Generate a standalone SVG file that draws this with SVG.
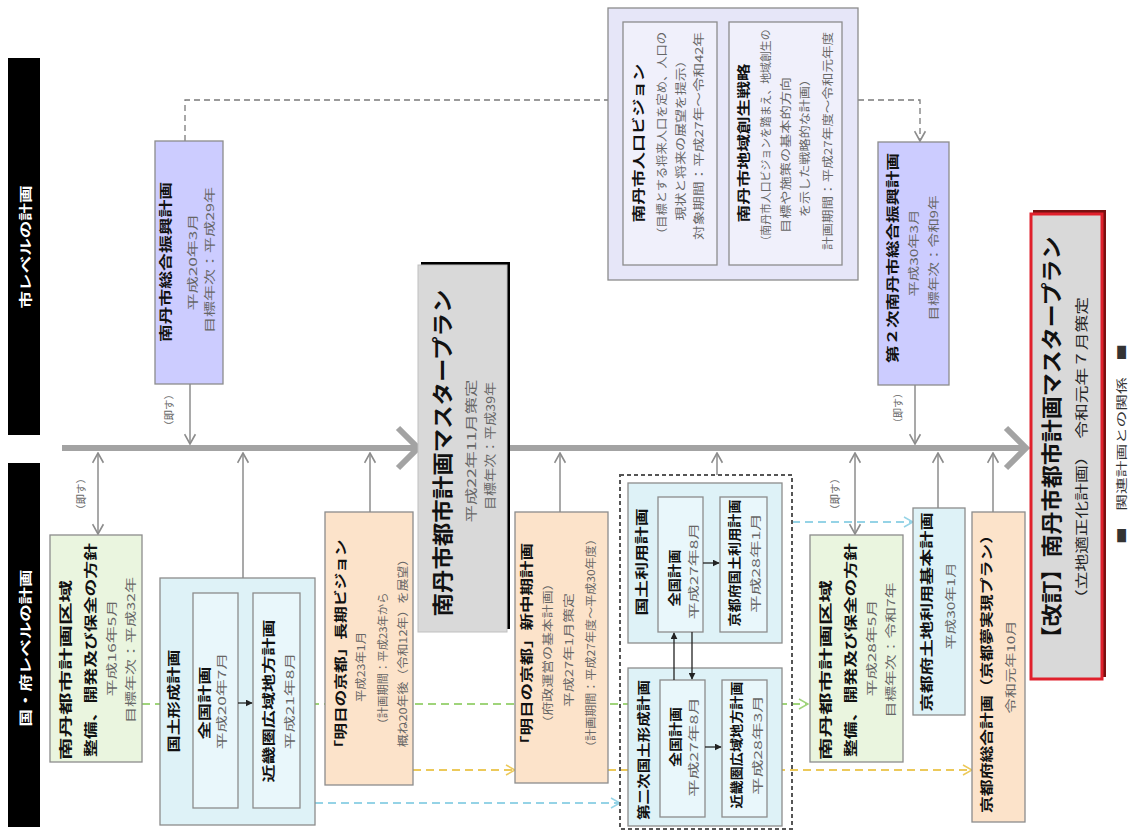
<svg xmlns="http://www.w3.org/2000/svg" width="1145" height="832" viewBox="0 0 1145 832">
<style>
text{font-family:"Noto Sans CJK JP","Noto Sans",sans-serif;text-anchor:middle;dominant-baseline:central}
.b{font-weight:bold;fill:#111}
.g{fill:#666}
.w{fill:#fff;font-weight:bold}
.lab{fill:#666;font-size:10px}
.box{stroke:#8c8c8c;stroke-width:1.3}
.grn{fill:#eaf5df}
.cyn{fill:#def2f7}
.cyi{fill:#e9f7fb}
.org{fill:#fce3ca}
.pur{fill:#ccccff}
.pu2{fill:#e6e6f8}
.pu3{fill:#f0f0fb}
.con{stroke:#8c8c8c;stroke-width:1.5;fill:none}
.dsh{stroke:#7a7a7a;stroke-width:1.3;fill:none;stroke-dasharray:6 4}
.tl{stroke:#a3a3a3;stroke-width:6;fill:none}
</style>
<defs>
<marker id="ag" viewBox="0 0 12 12" refX="11" refY="6" markerWidth="13" markerHeight="13" markerUnits="userSpaceOnUse" orient="auto-start-reverse"><path d="M2,1 L11,6 L2,11" fill="none" stroke="#8c8c8c" stroke-width="1.5"/></marker>
<marker id="ak" viewBox="0 0 10 10" refX="9" refY="5" markerWidth="7" markerHeight="7" markerUnits="userSpaceOnUse" orient="auto-start-reverse"><path d="M0,0 L10,5 L0,10 Z" fill="#222"/></marker>
<marker id="agr" viewBox="0 0 12 12" refX="11" refY="6" markerWidth="12" markerHeight="12" markerUnits="userSpaceOnUse" orient="auto"><path d="M2,1 L11,6 L2,11" fill="none" stroke="#9fd47a" stroke-width="1.5"/></marker>
<marker id="ayl" viewBox="0 0 12 12" refX="11" refY="6" markerWidth="12" markerHeight="12" markerUnits="userSpaceOnUse" orient="auto"><path d="M2,1 L11,6 L2,11" fill="none" stroke="#ecc95a" stroke-width="1.5"/></marker>
<marker id="acy" viewBox="0 0 12 12" refX="11" refY="6" markerWidth="12" markerHeight="12" markerUnits="userSpaceOnUse" orient="auto"><path d="M2,1 L11,6 L2,11" fill="none" stroke="#95d3e6" stroke-width="1.5"/></marker>
</defs>
<rect width="1145" height="832" fill="#fff"/>

<g id="connectors">
<path d="M142,704 H808" stroke="#9fd47a" stroke-width="2" stroke-dasharray="8 5" fill="none" marker-end="url(#agr)"/>
<path d="M413,770 H515" stroke="#ecc95a" stroke-width="2" stroke-dasharray="8 5" fill="none" marker-end="url(#ayl)"/>
<path d="M608,770 H972" stroke="#ecc95a" stroke-width="2" stroke-dasharray="8 5" fill="none" marker-end="url(#ayl)"/>
<path d="M315,803 H620" stroke="#95d3e6" stroke-width="2" stroke-dasharray="8 5" fill="none" marker-end="url(#acy)"/>
<path d="M792,522 H913" stroke="#95d3e6" stroke-width="2" stroke-dasharray="8 5" fill="none" marker-end="url(#acy)"/>
<path class="dsh" d="M185,141 V100 H608"/>
<path class="dsh" d="M858,100 H920 V141" marker-end="url(#ag)"/>
<path class="tl" d="M62,448 H416"/>
<path class="tl" d="M398,428 L418,448 L398,468"/>
<path class="tl" d="M507,448 H1024"/>
<path class="tl" d="M1006,428 L1026,448 L1006,468"/>
<path class="con" d="M190,384 V444" marker-end="url(#ag)"/>
<path class="con" d="M915,385 V444" marker-end="url(#ag)"/>
<path class="con" d="M98,453 V534" marker-start="url(#ag)" marker-end="url(#ag)"/>
<path class="con" d="M243,578 V453" marker-end="url(#ag)"/>
<path class="con" d="M370,512 V453" marker-end="url(#ag)"/>
<path class="con" d="M560,512 V453" marker-end="url(#ag)"/>
<path class="con" d="M717,475 V453" marker-end="url(#ag)"/>
<path class="con" d="M855,453 V534" marker-start="url(#ag)" marker-end="url(#ag)"/>
<path class="con" d="M938,508 V453" marker-end="url(#ag)"/>
<path class="con" d="M993,512 V453" marker-end="url(#ag)"/>
<text class="lab" transform="translate(168,410) rotate(-90)" textLength="42" lengthAdjust="spacingAndGlyphs">（即す）</text>
<text class="lab" transform="translate(897,408) rotate(-90)" textLength="40" lengthAdjust="spacingAndGlyphs">（即す）</text>
<text class="lab" transform="translate(80,494) rotate(-90)" textLength="42" lengthAdjust="spacingAndGlyphs">（即す）</text>
<text class="lab" transform="translate(834,494) rotate(-90)" textLength="42" lengthAdjust="spacingAndGlyphs">（即す）</text>
</g>

<g id="label-city">
<rect x="8" y="58" width="32" height="377" fill="#000"/>
<text class="w" font-size="13" transform="translate(24,247) rotate(-90)" textLength="123" lengthAdjust="spacingAndGlyphs">市レベルの計画</text>
</g>
<g id="label-pref">
<rect x="8" y="463" width="32" height="364" fill="#000"/>
<text class="w" font-size="13" transform="translate(24,648) rotate(-90)" textLength="157" lengthAdjust="spacingAndGlyphs">国・府レベルの計画</text>
</g>

<g id="city-plan-1">
<rect class="box pur" x="155" y="141" width="68" height="243"/>
<text class="b" font-size="13" transform="translate(164,262) rotate(-90)" textLength="160" lengthAdjust="spacingAndGlyphs">南丹市総合振興計画</text>
<text class="g" font-size="11" transform="translate(192,262) rotate(-90)" textLength="97" lengthAdjust="spacingAndGlyphs">平成20年3月</text>
<text class="g" font-size="11" transform="translate(209,260) rotate(-90)" textLength="146" lengthAdjust="spacingAndGlyphs">目標年次：平成29年</text>
</g>

<g id="city-vision">
<rect class="box pu2" x="608" y="8" width="250" height="272"/>
<rect class="box pu3" x="623" y="22" width="94" height="243"/>
<rect class="box pu3" x="729" y="22" width="113" height="243"/>
<text class="b" font-size="13" transform="translate(637,143) rotate(-90)" textLength="159" lengthAdjust="spacingAndGlyphs">南丹市人口ビジョン</text>
<text class="g" font-size="11" transform="translate(661,136) rotate(-90)" textLength="208" lengthAdjust="spacingAndGlyphs">（目標とする将来人口を定め、人口の</text>
<text class="g" font-size="11" transform="translate(680,137) rotate(-90)" textLength="167" lengthAdjust="spacingAndGlyphs">現状と将来の展望を提示）</text>
<text class="g" font-size="11" transform="translate(698,136) rotate(-90)" textLength="208" lengthAdjust="spacingAndGlyphs">対象期間：平成27年～令和42年</text>
<text class="b" font-size="13" transform="translate(742,143) rotate(-90)" textLength="159" lengthAdjust="spacingAndGlyphs">南丹市地域創生戦略</text>
<text class="g" font-size="11" transform="translate(765,138) rotate(-90)" textLength="217" lengthAdjust="spacingAndGlyphs">（南丹市人口ビジョンを踏まえ、地域創生の</text>
<text class="g" font-size="11" transform="translate(785,155) rotate(-90)" textLength="156" lengthAdjust="spacingAndGlyphs">目標や施策の基本的方向</text>
<text class="g" font-size="11" transform="translate(804,145) rotate(-90)" textLength="144" lengthAdjust="spacingAndGlyphs">を示した戦略的な計画）</text>
<text class="g" font-size="11" transform="translate(827,141) rotate(-90)" textLength="218" lengthAdjust="spacingAndGlyphs">計画期間：平成27年度～令和元年度</text>
</g>

<g id="city-plan-2">
<rect class="box pur" x="878" y="142" width="71" height="243"/>
<text class="b" font-size="13" transform="translate(891,258) rotate(-90)" textLength="210" lengthAdjust="spacingAndGlyphs">第２次南丹市総合振興計画</text>
<text class="g" font-size="11" transform="translate(913,253) rotate(-90)" textLength="87" lengthAdjust="spacingAndGlyphs">平成30年3月</text>
<text class="g" font-size="11" transform="translate(933,258) rotate(-90)" textLength="125" lengthAdjust="spacingAndGlyphs">目標年次：令和9年</text>
</g>

<g id="master-plan">
<rect x="421" y="262" width="89" height="367" fill="#000"/>
<rect x="418" y="265" width="89" height="367" fill="#d9d9d9" stroke="#bfbfbf" stroke-width="1"/>
<text class="b" font-size="21" transform="translate(441,453) rotate(-90)" textLength="327" lengthAdjust="spacingAndGlyphs">南丹市都市計画マスタープラン</text>
<text class="g" font-size="12" transform="translate(470,451) rotate(-90)" textLength="143" lengthAdjust="spacingAndGlyphs">平成22年11月策定</text>
<text class="g" font-size="12" transform="translate(489,446) rotate(-90)" textLength="128" lengthAdjust="spacingAndGlyphs">目標年次：平成39年</text>
</g>

<g id="revised-plan">
<rect x="1033" y="210" width="73" height="467" fill="#7a1010"/>
<rect x="1031" y="214" width="71" height="465" fill="#d9d9d9" stroke="#e0202c" stroke-width="3"/>
<text class="b" font-size="21" transform="translate(1050,443) rotate(-90)" textLength="413" lengthAdjust="spacingAndGlyphs">【改訂】南丹市都市計画マスタープラン</text>
<text font-size="13" fill="#222" transform="translate(1080,452) rotate(-90)" textLength="310" lengthAdjust="spacingAndGlyphs">（立地適正化計画）　令和元年７月策定</text>
</g>

<g id="legend">
<text font-size="11" fill="#333" transform="translate(1121,444) rotate(-90)" textLength="200" lengthAdjust="spacingAndGlyphs">■　関連計画との関係　■</text>
</g>

<g id="area-policy-1">
<rect class="box grn" x="50" y="535" width="92" height="227"/>
<text class="b" font-size="13" transform="translate(64,670) rotate(-90)" textLength="180" lengthAdjust="spacingAndGlyphs">南丹都市計画区域</text>
<text class="b" font-size="13" transform="translate(89,650) rotate(-90)" textLength="214" lengthAdjust="spacingAndGlyphs">整備、開発及び保全の方針</text>
<text class="g" font-size="11" transform="translate(111,648) rotate(-90)" textLength="97" lengthAdjust="spacingAndGlyphs">平成16年5月</text>
<text class="g" font-size="11" transform="translate(130,650) rotate(-90)" textLength="146" lengthAdjust="spacingAndGlyphs">目標年次：平成32年</text>
</g>

<g id="national-formation-1">
<rect class="box cyn" x="160" y="578" width="155" height="247"/>
<rect class="box cyi" x="193" y="593" width="45" height="215"/>
<rect class="box cyi" x="253" y="593" width="47" height="215"/>
<path d="M238,703 H252" stroke="#222" stroke-width="1.3" marker-end="url(#ak)"/>
<text class="b" font-size="13" transform="translate(172,701) rotate(-90)" textLength="103" lengthAdjust="spacingAndGlyphs">国土形成計画</text>
<text class="b" font-size="13" transform="translate(203,703) rotate(-90)" textLength="73" lengthAdjust="spacingAndGlyphs">全国計画</text>
<text class="g" font-size="11" transform="translate(221,701) rotate(-90)" textLength="97" lengthAdjust="spacingAndGlyphs">平成20年7月</text>
<text class="b" font-size="13" transform="translate(267,701) rotate(-90)" textLength="163" lengthAdjust="spacingAndGlyphs">近畿圏広域地方計画</text>
<text class="g" font-size="11" transform="translate(289,701) rotate(-90)" textLength="97" lengthAdjust="spacingAndGlyphs">平成21年8月</text>
</g>

<g id="kyoto-vision">
<rect class="box org" x="325" y="512" width="88" height="273"/>
<text class="b" font-size="13" transform="translate(339,648) rotate(-90)" textLength="217" lengthAdjust="spacingAndGlyphs">「明日の京都」長期ビジョン</text>
<text class="g" font-size="11" transform="translate(360,667) rotate(-90)" textLength="70" lengthAdjust="spacingAndGlyphs">平成23年1月</text>
<text class="g" font-size="11" transform="translate(382,661) rotate(-90)" textLength="137" lengthAdjust="spacingAndGlyphs">（計画期間：平成23年から</text>
<text class="g" font-size="11" transform="translate(402,650) rotate(-90)" textLength="194" lengthAdjust="spacingAndGlyphs">概ね20年後（令和12年）を展望）</text>
</g>

<g id="kyoto-midterm">
<rect class="box org" x="515" y="512" width="93" height="271"/>
<text class="b" font-size="13" transform="translate(525,648) rotate(-90)" textLength="210" lengthAdjust="spacingAndGlyphs">「明日の京都」新中期計画</text>
<text class="g" font-size="11" transform="translate(547,653) rotate(-90)" textLength="153" lengthAdjust="spacingAndGlyphs">（府政運営の基本計画）</text>
<text class="g" font-size="11" transform="translate(568,650) rotate(-90)" textLength="114" lengthAdjust="spacingAndGlyphs">平成27年1月策定</text>
<text class="g" font-size="11" transform="translate(590,643) rotate(-90)" textLength="220" lengthAdjust="spacingAndGlyphs">（計画期間：平成27年度～平成30年度）</text>
</g>

<g id="national-group">
<rect x="620" y="475" width="172" height="354" fill="none" stroke="#555" stroke-width="2" stroke-dasharray="4 3"/>
<rect class="box cyn" x="628" y="483" width="154" height="160"/>
<rect class="box cyi" x="658" y="497" width="45" height="135"/>
<rect class="box cyi" x="720" y="497" width="47" height="135"/>
<path d="M703,563 H719" stroke="#222" stroke-width="1.3" marker-end="url(#ak)"/>
<text class="b" font-size="13" transform="translate(640,562) rotate(-90)" textLength="107" lengthAdjust="spacingAndGlyphs">国土利用計画</text>
<text class="b" font-size="13" transform="translate(673,578) rotate(-90)" textLength="57" lengthAdjust="spacingAndGlyphs">全国計画</text>
<text class="g" font-size="11" transform="translate(693,571) rotate(-90)" textLength="97" lengthAdjust="spacingAndGlyphs">平成27年8月</text>
<text class="b" font-size="13" transform="translate(733,563) rotate(-90)" textLength="127" lengthAdjust="spacingAndGlyphs">京都府国土利用計画</text>
<text class="g" font-size="11" transform="translate(755,563) rotate(-90)" textLength="100" lengthAdjust="spacingAndGlyphs">平成28年1月</text>
<rect class="box cyn" x="628" y="668" width="154" height="158"/>
<rect class="box cyi" x="660" y="680" width="45" height="137"/>
<rect class="box cyi" x="722" y="680" width="45" height="137"/>
<path d="M705,747 H721" stroke="#222" stroke-width="1.3" marker-end="url(#ak)"/>
<path d="M674,680 V633" stroke="#222" stroke-width="1.3" marker-end="url(#ak)"/>
<path d="M692,632 V679" stroke="#222" stroke-width="1.3" marker-end="url(#ak)"/>
<text class="b" font-size="13" transform="translate(642,750) rotate(-90)" textLength="140" lengthAdjust="spacingAndGlyphs">第二次国土形成計画</text>
<text class="b" font-size="13" transform="translate(674,737) rotate(-90)" textLength="60" lengthAdjust="spacingAndGlyphs">全国計画</text>
<text class="g" font-size="11" transform="translate(693,747) rotate(-90)" textLength="100" lengthAdjust="spacingAndGlyphs">平成27年8月</text>
<text class="b" font-size="13" transform="translate(735,745) rotate(-90)" textLength="127" lengthAdjust="spacingAndGlyphs">近畿圏広域地方計画</text>
<text class="g" font-size="11" transform="translate(757,745) rotate(-90)" textLength="100" lengthAdjust="spacingAndGlyphs">平成28年3月</text>
</g>

<g id="area-policy-2">
<rect class="box grn" x="810" y="535" width="93" height="227"/>
<text class="b" font-size="13" transform="translate(824,670) rotate(-90)" textLength="180" lengthAdjust="spacingAndGlyphs">南丹都市計画区域</text>
<text class="b" font-size="13" transform="translate(849,650) rotate(-90)" textLength="214" lengthAdjust="spacingAndGlyphs">整備、開発及び保全の方針</text>
<text class="g" font-size="11" transform="translate(871,648) rotate(-90)" textLength="97" lengthAdjust="spacingAndGlyphs">平成28年5月</text>
<text class="g" font-size="11" transform="translate(890,650) rotate(-90)" textLength="135" lengthAdjust="spacingAndGlyphs">目標年次：令和7年</text>
</g>

<g id="kyoto-landuse">
<rect class="box cyn" x="913" y="508" width="52" height="207"/>
<text class="b" font-size="13" transform="translate(925,612) rotate(-90)" textLength="199" lengthAdjust="spacingAndGlyphs">京都府土地利用基本計画</text>
<text class="g" font-size="11" transform="translate(950,606) rotate(-90)" textLength="87" lengthAdjust="spacingAndGlyphs">平成30年1月</text>
</g>

<g id="kyoto-general">
<rect class="box org" x="972" y="512" width="53" height="310"/>
<text class="b" font-size="13" transform="translate(985,670) rotate(-90)" textLength="286" lengthAdjust="spacingAndGlyphs">京都府総合計画（京都夢実現プラン）</text>
<text class="g" font-size="11" transform="translate(1010,667) rotate(-90)" textLength="93" lengthAdjust="spacingAndGlyphs">令和元年10月</text>
</g>
</svg>
